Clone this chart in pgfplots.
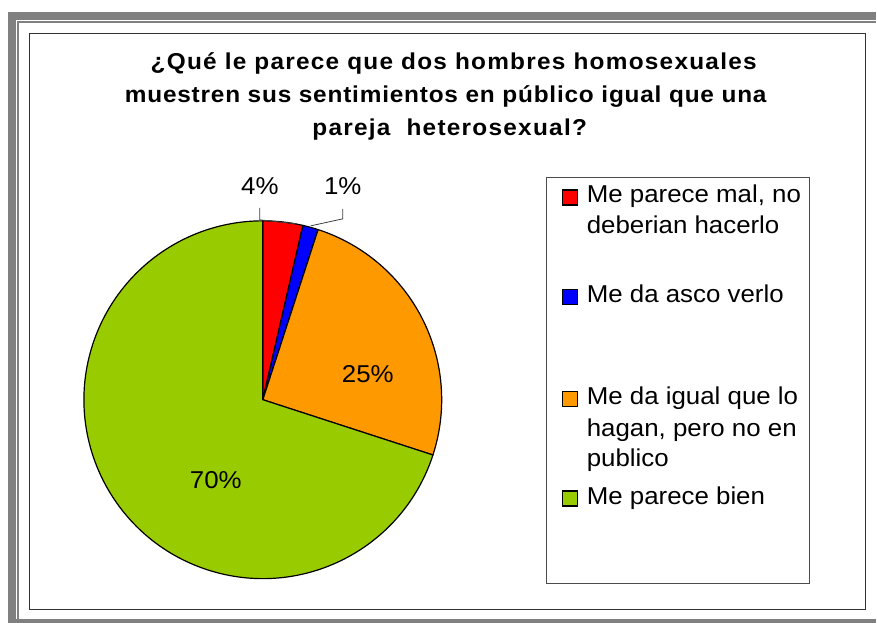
\documentclass[border=0pt]{standalone}
\usepackage{pgfplots}
\usepackage{pgfplotstable}
\pgfplotsset{compat=1.18}
\usepackage{fontspec}
\setmainfont{Liberation Sans}[FakeStretch=1.06]
\newfontfamily\titlewide{Liberation Sans}[FakeStretch=1.06,LetterSpace=5.5]
\newfontfamily\titletight{Liberation Sans}[FakeStretch=1.06,LetterSpace=3.5]
\definecolor{pRed}{HTML}{FF0000}
\definecolor{pBlue}{HTML}{0000FF}
\definecolor{pOrange}{HTML}{FF9900}
\definecolor{pGreen}{HTML}{99CC00}
\definecolor{frameGray}{HTML}{808080}

% shares in percent, clockwise from 12 o'clock
\pgfplotstableread{
share
3.6
1.4
25.0
70.0
}\piedata
\pgfplotstablegetelem{0}{share}\of\piedata\let\sA\pgfplotsretval
\pgfplotstablegetelem{1}{share}\of\piedata\let\sB\pgfplotsretval
\pgfplotstablegetelem{2}{share}\of\piedata\let\sC\pgfplotsretval
\pgfplotstablegetelem{3}{share}\of\piedata\let\sD\pgfplotsretval
\pgfmathsetmacro\aA{90}
\pgfmathsetmacro\aB{\aA-3.6*\sA}
\pgfmathsetmacro\aC{\aB-3.6*\sB}
\pgfmathsetmacro\aD{\aC-3.6*\sC}
\pgfmathsetmacro\aE{\aD-3.6*\sD}
\newcommand\pieslice[3]{%
  \filldraw[fill=#1,draw=black,line width=0.9pt,line join=round]
    (axis cs:263,223) -- ({263+179*cos(#2)},{223+179*sin(#2)})
    arc[start angle=#2,end angle=#3,radius=134.25pt] -- cycle;}
\newcommand\legsq[2]{%
  \filldraw[fill=#1,draw=black,line width=1.1pt] (axis cs:563,#2-7.5) rectangle (axis cs:578,#2+7.5);}

\begin{document}
\begin{tikzpicture}
\begin{axis}[width=657.75pt,height=467.25pt,scale only axis,
  xmin=0,xmax=877,ymin=0,ymax=623,hide axis,clip=false]
  % frame
  \fill[white] (axis cs:0,0) rectangle (axis cs:877,623);
  \fill[frameGray] (axis cs:8,0) rectangle (axis cs:877,611);
  \fill[white] (axis cs:16,4) rectangle (axis cs:877,603);
  \draw[frameGray,line width=0.9pt] (axis cs:18,4) -- (axis cs:18,601) -- (axis cs:877,601);
  \draw[black!80,line width=1pt] (axis cs:29.5,13) rectangle (axis cs:866,589.5);
  % title
  \begin{scope}[every node/.style={anchor=base}]
    \node[font=\titlewide\fontsize{17.25}{20}\selectfont\bfseries] at (axis cs:454,553) {¿Qué le parece que dos hombres homosexuales};
    \node[font=\titletight\fontsize{17.25}{20}\selectfont\bfseries] at (axis cs:446,520) {muestren sus sentimientos en público igual que una};
    \node[font=\titlewide\fontsize{17.25}{20}\selectfont\bfseries] at (axis cs:450,487) {pareja\ \ heterosexual?};
  \end{scope}
  % pie
  \pieslice{pRed}{\aA}{\aB}
  \pieslice{pBlue}{\aB}{\aC}
  \pieslice{pOrange}{\aC}{\aD}
  \pieslice{pGreen}{\aD}{\aE}
  \draw[black!75,line width=0.6pt] (axis cs:260,415) -- (axis cs:260,403) -- (axis cs:297,399);
  \draw[black!75,line width=0.6pt] (axis cs:343,414) -- (axis cs:343,404) -- (axis cs:311,397);
  \begin{scope}[every node/.style={anchor=center,inner sep=0pt,font=\fontsize{18.3}{22}\selectfont}]
    \node at (axis cs:260,436.3) {4\%};
    \node at (axis cs:343,436.3) {1\%};
    \node at (axis cs:368,249) {25\%};
    \node at (axis cs:216,143) {70\%};
  \end{scope}
  % legend
  \draw[black!70,line width=0.75pt] (axis cs:547,39) rectangle (axis cs:810,445);
  \legsq{pRed}{425.5}
  \legsq{pBlue}{326}
  \legsq{pOrange}{223.5}
  \legsq{pGreen}{124}
  \begin{scope}[every node/.style={anchor=base west,inner sep=0pt,font=\fontsize{18.3}{22}\selectfont}]
    \node at (axis cs:587,420.3) {Me parece mal, no};
    \node at (axis cs:587,389) {deberian hacerlo};
    \node at (axis cs:587,320.3) {Me da asco verlo};
    \node at (axis cs:587,218) {Me da igual que lo};
    \node at (axis cs:587,186.3) {hagan, pero no en};
    \node at (axis cs:587,156.3) {publico};
    \node at (axis cs:587,118) {Me parece bien};
  \end{scope}
\end{axis}
\end{tikzpicture}
\end{document}
